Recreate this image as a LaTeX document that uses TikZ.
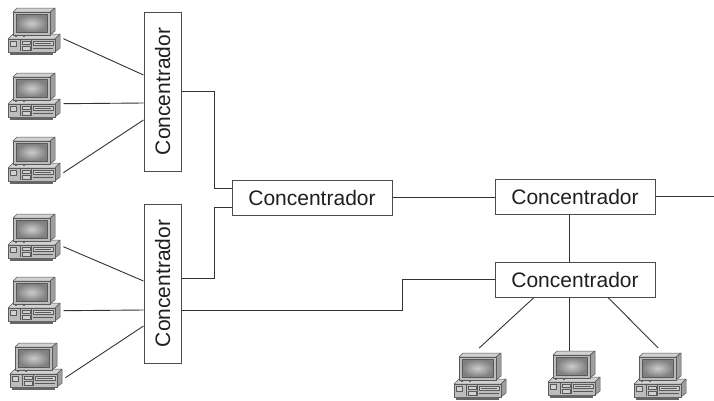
\documentclass[tikz,border=0pt]{standalone}
\usepackage{fontspec}
\setmainfont{Liberation Sans}
\usetikzlibrary{calc}

\definecolor{boxline}{gray}{0.30}
\definecolor{wire}{gray}{0.20}
\definecolor{labeltext}{gray}{0.12}
\definecolor{pcline}{gray}{0.35}
\definecolor{pctop}{gray}{0.82}
\definecolor{pcside}{gray}{0.62}
\definecolor{pcfront}{gray}{0.74}
\definecolor{pcdark}{gray}{0.40}
\definecolor{scrdark}{gray}{0.50}
\definecolor{scrlight}{gray}{0.80}

\tikzset{
  hub/.style={draw=boxline,line width=1pt,fill=white,inner sep=0pt,
              minimum width=160pt,minimum height=35pt,text=labeltext,
              font=\fontsize{21}{25}\selectfont},
  hubv/.style={hub,rotate=90,minimum width=159pt,minimum height=37pt},
  pc/.style={inner sep=0pt,minimum width=56pt,minimum height=47pt,
             anchor=north west},
  link/.style={draw=wire,line width=0.9pt},
  % desktop computer icon, 56 x 47, origin at its top left corner
  pcicon/.pic={
    \begin{scope}[line width=0.5pt,draw=pcline,line join=round]
      % system unit
      \filldraw[fill=pctop] (1,31)--(6,26)--(53,26)--(48,31)--cycle;
      \filldraw[fill=pcside] (48,31)--(53,26)--(53,40)--(48,44)--cycle;
      \filldraw[fill=pcfront] (1,31) rectangle (48,44);
      \fill[pcdark] (3,44) rectangle (46,46.5);
      \filldraw[fill=pctop] (3,33) rectangle (9,38);
      \draw (13,32) -- (13,43);
      \filldraw[fill=pctop] (15,33) rectangle (23,36.5);
      \filldraw[fill=pctop] (15,38.5) rectangle (23,42);
      \draw (24.5,32) -- (24.5,43);
      \filldraw[fill=pctop] (26,33.5) rectangle (46,37.5);
      \draw (28,35.5) -- (44,35.5);
      \draw (26,40) -- (46,40);
      % monitor
      \filldraw[fill=pctop] (6,4)--(10,0)--(48,0)--(43,4)--cycle;
      \filldraw[fill=pcside] (43,4)--(48,0)--(48,23)--(43,27)--cycle;
      \filldraw[fill=pcfront] (6,4) rectangle (43,27);
      \shade[inner color=scrlight,outer color=scrdark] (9,6.5) rectangle (40,24);
      \draw (9,6.5) rectangle (40,24);
      \fill[pcdark] (8,27.5) rectangle (10,29);
      \fill[pcdark] (16,27.5) rectangle (18,29);
    \end{scope}
  },
}

\begin{document}
\begin{tikzpicture}[x=1pt,y=-1pt]
  \useasboundingbox (0,0) rectangle (714,400);

  % concentrators
  \node[hubv] (v1) at (162.5,91.5)  {Concentrador};
  \node[hubv] (v2) at (162.5,283.5) {Concentrador};
  \node[hub]  (m1) at (312,197.5)   {Concentrador};
  \node[hub]  (r1) at (575,196.5)   {Concentrador};
  \node[hub]  (r2) at (575,279.5)   {Concentrador};

  % workstations
  \foreach \n/\px/\py in {p1/7/8, p2/7/73, p3/7/137, p4/7/214, p5/7/277,
                          p6/9/343, b1/453/353, b2/547/351, b3/633/353} {
    \node[pc] (\n) at (\px,\py) {};
    \pic at (\n.north west) {pcicon};
  }

  % bend points of the trunk lines
  \coordinate (busA) at (214,0);
  \coordinate (busB) at (402,0);
  \coordinate (out)  at (714,196.5);

  % workstations to the left concentrators
  \draw[link] ([yshift=-7pt]p1.east) -- ([yshift=16.5pt]v1.north);
  \draw[link] ([yshift=-7pt]p2.east) -- ([yshift=-11.5pt]v1.north);
  \draw[link] ([yshift=-12pt]p3.east) -- ([yshift=-28.5pt]v1.north);
  \draw[link] ([yshift=-9pt]p4.east) -- ([yshift=2.5pt]v2.north);
  \draw[link] ([yshift=-10pt]p5.east) -- ([yshift=-26.5pt]v2.north);
  \draw[link] ([yshift=-11pt]p6.east) -- ([yshift=-42.5pt]v2.north);

  % trunk lines
  \coordinate (m1a) at ([yshift=9.5pt]m1.west);
  \coordinate (m1b) at ([yshift=-9.5pt]m1.west);
  \coordinate (v2a) at ([yshift=5.5pt]v2.south);
  \coordinate (v2b) at ([yshift=-26.5pt]v2.south);
  \draw[link] (v1.south) -| (busA |- m1a) -- (m1a);
  \draw[link] (m1b) -| (busA |- v2a) -- (v2a);
  \draw[link] (v2b) -| (busB |- r2.west) -- (r2.west);
  \draw[link] (m1.east) -- (m1.east -| r1.west);
  \draw[link] (r1.east) -- (out);
  \draw[link] ([xshift=-6pt]r1.south) -- ([xshift=-6pt]r2.north);

  % workstations below the lower right concentrator
  \draw[link] ([xshift=-41pt]r2.south) -- ([xshift=-2pt,yshift=5pt]b1.north);
  \draw[link] ([xshift=-6pt]r2.south) -- ([xshift=-6pt]r2.south |- b2.north);
  \draw[link] ([xshift=33pt]r2.south) -- ([xshift=-3pt,yshift=5pt]b3.north);
\end{tikzpicture}
\end{document}
